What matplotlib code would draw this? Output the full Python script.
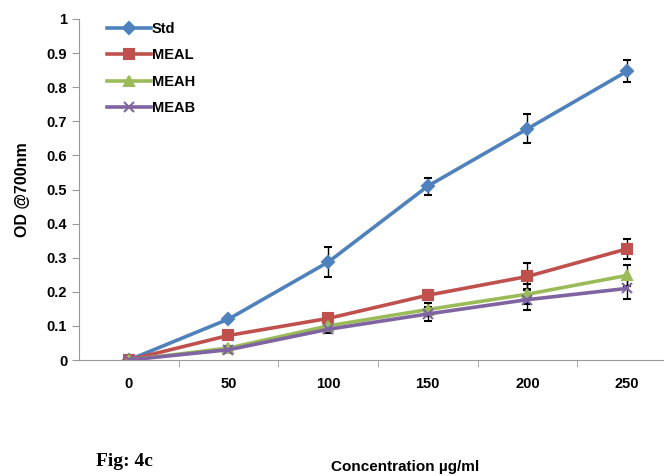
import numpy as np
import matplotlib.pyplot as plt
from matplotlib.lines import Line2D

conc = ['0', '50', '100', '150', '200', '250']
std = [0.0, 0.12, 0.287, 0.51, 0.678, 0.847]
std_err = [0.0, 0.005, 0.045, 0.025, 0.043, 0.032]
meal = [0.0, 0.072, 0.122, 0.19, 0.245, 0.326]
meal_err = [0.0, 0.01, 0.01, 0.015, 0.04, 0.03]
meah = [0.0, 0.035, 0.1, 0.148, 0.193, 0.248]
meah_err = [0.0, 0.005, 0.01, 0.02, 0.03, 0.03]
meab = [0.0, 0.03, 0.09, 0.135, 0.177, 0.21]
meab_err = [0.0, 0.005, 0.01, 0.02, 0.03, 0.03]

plt.rcParams['font.family'] = ['Liberation Sans', 'DejaVu Sans']

fig = plt.figure(figsize=(6.64, 4.76), dpi=100)
ax = fig.add_axes([79/664, 116/476, 1 - 79/664, 341/476])

x = np.arange(len(conc))
series = [
    ('Std', std, std_err, '#4F81BD', 'D', 6.5),
    ('MEAL', meal, meal_err, '#C0504D', 's', 7.5),
    ('MEAH', meah, meah_err, '#9BBB59', '^', 7.5),
    ('MEAB', meab, meab_err, '#8064A2', 'x', 7.5),
]
handles = []
for name, y, e, c, m, ms in series:
    ax.errorbar(x, y, yerr=e, color=c, lw=2.6, marker=m, ms=ms, mew=1.5,
                ecolor='black', elinewidth=1, capsize=3, capthick=1)
    handles.append(Line2D([], [], color=c, lw=2.6, marker=m, ms=ms, mew=1.5, label=name))

ax.set_ylim(0, 1)
ax.set_yticks(np.arange(0, 1.01, 0.1))
ax.set_yticklabels(['0', '0.1', '0.2', '0.3', '0.4', '0.5', '0.6', '0.7', '0.8', '0.9', '1'])
ax.set_xlim(-0.5, 5.37)
ax.set_xticks(x)
ax.set_xticklabels(conc)
ax.set_xticks(np.arange(0.5, 5.0, 1), minor=True)
ax.tick_params(axis='x', which='major', length=0, pad=12)
ax.tick_params(axis='x', which='minor', length=5, color='#999999')
ax.tick_params(axis='y', length=5, color='#999999')
for lab in ax.get_xticklabels() + ax.get_yticklabels():
    lab.set_fontweight('bold')
    lab.set_fontsize(10.5)
for s in ['top', 'right']:
    ax.spines[s].set_visible(False)
for s in ['left', 'bottom']:
    ax.spines[s].set_color('#999999')

ax.set_ylabel('OD @700nm', fontsize=11.5, fontweight='bold', labelpad=12)

ax.legend(handles=handles, loc='upper left', bbox_to_anchor=(0.025, 1.03), frameon=False,
          prop={'weight': 'bold', 'size': 10.5}, handlelength=3.0,
          handletextpad=0.1, labelspacing=0.85)

fig.text(96/664, 1 - 461/476, 'Fig: 4c', family='Liberation Serif',
         fontweight='bold', fontsize=14, va='center')
fig.text(405/664, 1 - 467/476, 'Concentration µg/ml', fontweight='bold',
         fontsize=11, ha='center', va='center')

fig.savefig('out.png', dpi=100)
